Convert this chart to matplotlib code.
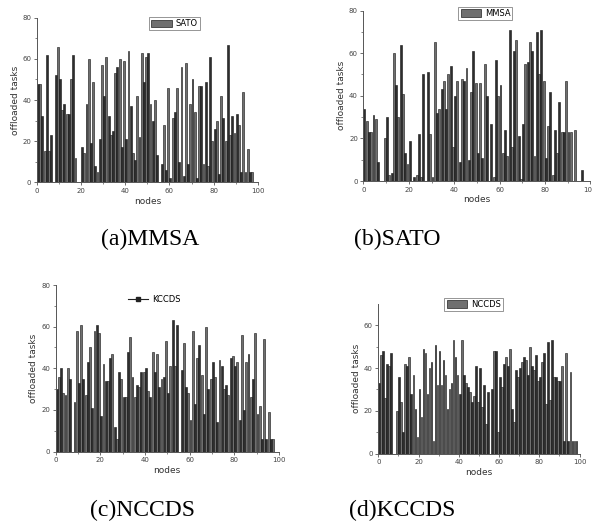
import matplotlib
matplotlib.use("Agg")
import matplotlib.pyplot as plt
from matplotlib.lines import Line2D
from matplotlib.patches import Patch
import numpy as np

sato = [48, 48, 32, 15, 62, 15, 23, 0, 52, 66, 50, 35, 38, 33, 33, 50, 62, 12, 0, 0,
        17, 14, 38, 60, 19, 49, 8, 5, 21, 57, 42, 61, 32, 23, 25, 53, 56, 60, 17, 59,
        21, 64, 37, 14, 11, 42, 22, 63, 49, 61, 63, 38, 30, 40, 13, 0, 9, 28, 6, 46,
        2, 31, 34, 46, 10, 56, 3, 58, 9, 38, 50, 34, 2, 47, 47, 9, 49, 8, 61, 20,
        26, 30, 4, 42, 31, 20, 67, 23, 32, 24, 33, 28, 5, 44, 5, 16, 5, 5]

mmsa = [34, 28, 23, 23, 31, 29, 9, 0, 0, 20, 30, 3, 4, 60, 45, 30, 64, 41, 13, 8,
        19, 0, 2, 3, 22, 2, 50, 0, 51, 22, 2, 65, 32, 34, 43, 47, 34, 50, 54, 16,
        40, 47, 9, 48, 47, 53, 10, 42, 61, 46, 13, 46, 11, 55, 40, 0, 27, 2, 57, 40,
        45, 13, 24, 12, 71, 16, 61, 66, 21, 1, 27, 55, 56, 65, 61, 12, 70, 50, 71, 47,
        11, 26, 42, 3, 24, 13, 37, 23, 23, 47, 23, 23, 0, 24, 0, 0, 5, 0, 0]

kccds = [30, 36, 40, 28, 27, 40, 35, 0, 24, 58, 33, 61, 35, 27, 43, 50, 21, 58, 61, 57,
         17, 42, 34, 34, 45, 47, 12, 6, 38, 35, 26, 26, 48, 55, 36, 26, 32, 31, 38, 38,
         40, 29, 26, 48, 38, 47, 31, 35, 36, 53, 28, 41, 63, 41, 61, 0, 39, 52, 31, 28,
         15, 58, 23, 45, 51, 37, 18, 60, 30, 35, 43, 36, 14, 44, 41, 30, 32, 27, 45, 46,
         41, 43, 15, 56, 20, 43, 47, 26, 35, 57, 18, 22, 6, 54, 6, 19, 6, 6]

nccds = [33, 46, 48, 26, 42, 41, 47, 0, 0, 20, 36, 24, 10, 42, 41, 45, 28, 37, 21, 8,
         30, 17, 49, 47, 28, 40, 43, 6, 51, 32, 48, 32, 44, 37, 21, 30, 33, 53, 45, 37,
         28, 53, 37, 33, 31, 29, 24, 27, 41, 24, 40, 22, 32, 14, 29, 0, 30, 48, 48, 10,
         36, 31, 42, 45, 41, 49, 21, 15, 39, 36, 40, 43, 45, 44, 37, 50, 41, 39, 46, 34,
         36, 43, 47, 23, 52, 25, 53, 36, 36, 34, 34, 41, 6, 47, 6, 38, 6, 6, 6]

captions = ["(a)MMSA", "(b)SATO", "(c)NCCDS", "(d)KCCDS"]
legend_names = ["SATO", "MMSA", "KCCDS", "NCCDS"]

fig = plt.figure(figsize=(5.92, 5.25), dpi=100)

panels = [
    (sato, [0.0625, 0.653, 0.373, 0.313], 80, "box"),
    (mmsa, [0.614, 0.655, 0.383, 0.325], 80, "box"),
    (kccds, [0.094, 0.140, 0.377, 0.317], 80, "line"),
    (nccds, [0.639, 0.136, 0.340, 0.285], 70, "box"),
]
leg_pos = [(0.295, 0.955), (0.82, 0.975), (0.26, 0.43), (0.80, 0.42)]

dark = "#2e2e2e"
grey = "#6f6f6f"

for i, (vals, rect, ymax, ltype) in enumerate(panels):
    ax = fig.add_axes(rect)
    x = np.arange(len(vals))
    cols = [dark if k % 2 == 0 else grey for k in range(len(vals))]
    ax.bar(x, vals, width=0.85, align="edge", color=cols, edgecolor="#111111", linewidth=0.4)
    ax.set_xlim(0, 100)
    ax.set_ylim(0, ymax)
    ax.set_xticks([0, 20, 40, 60, 80, 100])
    if ymax == 80:
        ax.set_yticks([0, 20, 40, 60, 80])
    else:
        ax.set_yticks([0, 20, 40, 60])
    ax.set_xticks(np.arange(10, 100, 20), minor=True)
    ax.set_yticks(np.arange(10, ymax, 20), minor=True)
    for s in ["top", "right"]:
        ax.spines[s].set_visible(False)
    for s in ["left", "bottom"]:
        ax.spines[s].set_color("#555555")
        ax.spines[s].set_linewidth(0.7)
    ax.tick_params(which="major", length=2.5, width=0.6, color="#555555",
                   labelsize=5, labelcolor="#444444", pad=1.5)
    ax.tick_params(which="minor", length=1.5, width=0.5, color="#555555")
    ax.set_xlabel("nodes", fontsize=6.5, color="#333333", labelpad=2)
    ax.set_ylabel("offloaded tasks", fontsize=6.5, color="#333333", labelpad=2)
    if ltype == "box":
        h = [Patch(facecolor=grey, edgecolor="#222222", linewidth=0.5)]
        leg = ax.legend(h, [legend_names[i]], loc="center",
                        bbox_to_anchor=leg_pos[i], bbox_transform=fig.transFigure,
                        fontsize=6, frameon=True, fancybox=False, handlelength=2.5,
                        handleheight=1.0, borderpad=0.25, handletextpad=0.4)
        leg.get_frame().set_edgecolor("#666666")
        leg.get_frame().set_linewidth(0.6)
    else:
        h = [Line2D([0], [0], color="#222222", lw=0.8, marker="s", markersize=3)]
        ax.legend(h, [legend_names[i]], loc="center",
                  bbox_to_anchor=leg_pos[i], bbox_transform=fig.transFigure,
                  fontsize=6, frameon=False, handlelength=2.5, handletextpad=0.4)

cap_pos = [(0.253, 0.543), (0.671, 0.543), (0.240, 0.027), (0.679, 0.027)]
for (cx, cy), txt in zip(cap_pos, captions):
    fig.text(cx, cy, txt, ha="center", va="center", fontsize=17,
             family="Liberation Serif")

fig.savefig("out.png", dpi=100)
